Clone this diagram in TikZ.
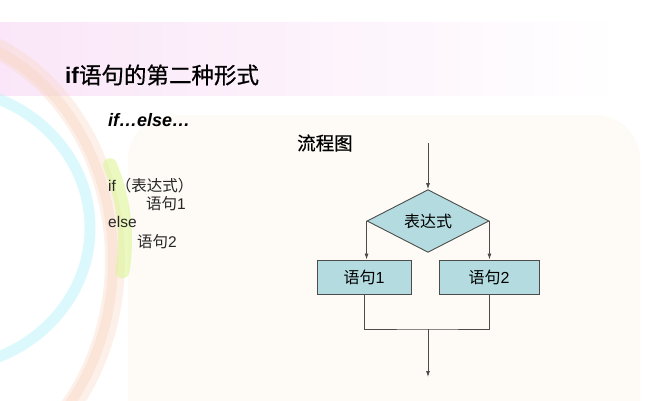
\documentclass[tikz,border=0pt]{standalone}
\usepackage{fontspec}
\setmainfont{Liberation Sans}
\newfontfamily\cjk{Noto Sans CJK SC}
\newfontfamily\cjkt[FakeBold=0.6]{Noto Sans CJK SC}
\usetikzlibrary{shapes.geometric,arrows.meta}
\definecolor{boxfill}{RGB}{180,220,224}
\definecolor{bandpink}{RGB}{250,230,248}
\definecolor{cream}{RGB}{254,250,245}
\definecolor{peach}{RGB}{248,214,192}
\definecolor{aqua}{RGB}{185,243,250}
\definecolor{lime}{RGB}{222,245,150}
\tikzset{
  flow/.style={draw=black!70,line width=0.8pt},
  flowarrow/.style={flow,-{Latex[length=6pt,width=4pt]}},
  stmtbox/.style={draw=black!70,line width=0.9pt,fill=boxfill,
    minimum height=34pt,inner sep=0pt,font=\fontsize{16}{16}\selectfont},
  testbox/.style={diamond,draw=black!70,line width=0.9pt,fill=boxfill,
    minimum width=122pt,minimum height=56pt,inner sep=0pt,
    font=\fontsize{16}{16}\selectfont},
  codeline/.style={anchor=west,inner sep=0pt,text=black!85,font=\fontsize{15.5}{16}\selectfont}
}
\begin{document}
\begin{tikzpicture}[x=1pt,y=-1pt]
\useasboundingbox (0,0) rectangle (667,400);
% background of the slide
\fill[white] (0,0) rectangle (667,400);
\shade[left color=bandpink,right color=white] (0,22) rectangle (620,95);
\fill[cream,rounded corners=45pt] (128,115) rectangle (640,460);
\draw[peach,line width=20pt,opacity=0.35] (-80,260) ellipse [x radius=195pt,y radius=230pt];
\draw[peach,line width=10pt,opacity=0.4] (-80,260) ellipse [x radius=193pt,y radius=228pt];
\draw[aqua,line width=11pt,opacity=0.5] (-60,228) ellipse [x radius=150pt,y radius=140pt];
\draw[lime,line width=14pt,opacity=0.6,line cap=round] (-80,240) ++(-9:205pt and 200pt)
  arc [start angle=-9,end angle=22,x radius=205pt,y radius=200pt];
% texts
\node[anchor=west,inner sep=0pt,font=\fontsize{22.5}{24}\selectfont] (title) at (65,75)
  {\textbf{if}{\cjkt 语句的第二种形式}};
\node[anchor=west,inner sep=0pt,font=\fontsize{18}{18}\selectfont\bfseries\itshape] (form) at (108,120)
  {if…else…};
\node[anchor=west,inner sep=0pt,font=\fontsize{18.5}{19}\selectfont] (chart) at (297,143) {\cjkt 流程图};
\node[codeline] (l1) at (108,186) {if{\cjk （表达式）}};
\node[codeline] (l2) at (146,204) {{\cjk 语句}1};
\node[codeline] (l3) at (108,222) {else};
\node[codeline] (l4) at (137,242) {{\cjk 语句}2};
% flow chart
\coordinate (start) at (428,143);
\node[testbox] (cond) at (428,221) {\cjk 表达式};
\node[stmtbox,minimum width=94pt] (s1) at (364,277) {{\cjk 语句}1};
\node[stmtbox,minimum width=100pt] (s2) at (489,277) {\raisebox{-4pt}{{\cjk 语句}2}};
\coordinate (join) at (428,329);
\coordinate (end) at (428,377);
\draw[flowarrow] (start) -- (cond.north);
\draw[flowarrow] (cond.west) -- (cond.west |- s1.north);
\draw[flowarrow] (cond.east) -- (cond.east |- s2.north);
\draw[flow] (s1.south) |- (join) -| (s2.south);
\draw[flowarrow] (join) -- (end);
\end{tikzpicture}
\end{document}
